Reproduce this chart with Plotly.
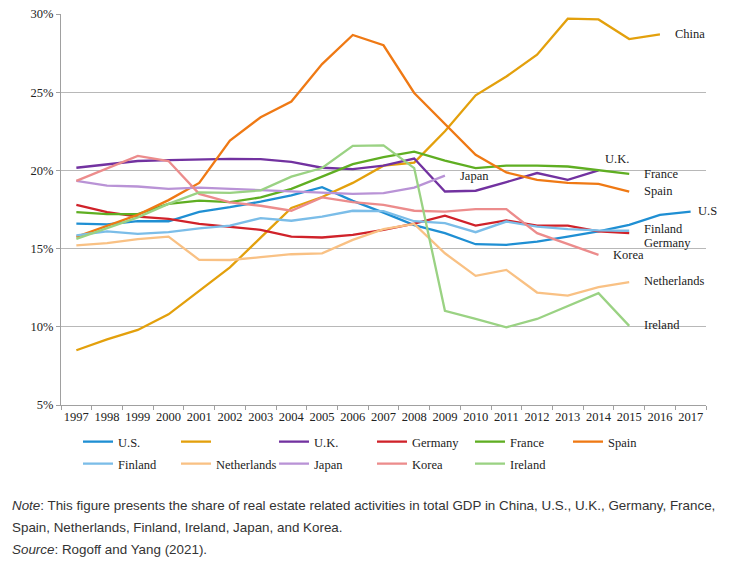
import plotly.graph_objects as go

years = list(range(1997, 2018))

us = [16.6, 16.55, 16.75, 16.75, 17.35, 17.65, 18.0, 18.4, 18.93, 18.05, 17.3, 16.5, 15.99, 15.28, 15.24, 15.45, 15.77, 16.1, 16.52, 17.16, 17.37]
china = [8.5, 9.2, 9.8, 10.8, 12.3, 13.8, 15.7, 17.6, 18.3, 19.2, 20.3, 20.5, 22.5, 24.8, 26.0, 27.4, 29.7, 29.65, 28.4, 28.7]
uk = [20.17, 20.4, 20.6, 20.66, 20.72, 20.74, 20.72, 20.55, 20.17, 20.08, 20.3, 20.76, 18.65, 18.7, 19.25, 19.83, 19.4, 20.0]
germany = [17.8, 17.33, 17.05, 16.9, 16.58, 16.37, 16.2, 15.77, 15.71, 15.88, 16.2, 16.6, 17.1, 16.47, 16.8, 16.47, 16.47, 16.1, 15.99]
france = [17.33, 17.2, 17.2, 17.86, 18.07, 17.97, 18.27, 18.82, 19.6, 20.4, 20.85, 21.2, 20.63, 20.15, 20.3, 20.3, 20.25, 20.0, 19.78]
spain = [15.75, 16.45, 17.16, 18.1, 19.2, 21.9, 23.4, 24.4, 26.8, 28.66, 28.0, 24.95, 23.0, 21.0, 19.87, 19.4, 19.2, 19.14, 18.65]
finland = [15.84, 16.1, 15.94, 16.05, 16.3, 16.47, 16.95, 16.78, 17.05, 17.42, 17.4, 16.75, 16.63, 16.05, 16.73, 16.41, 16.25, 16.16, 16.14]
netherlands = [15.2, 15.35, 15.6, 15.77, 14.28, 14.27, 14.45, 14.64, 14.7, 15.56, 16.24, 16.58, 14.7, 13.26, 13.64, 12.19, 12.0, 12.53, 12.85]
japan = [19.33, 19.03, 18.97, 18.82, 18.9, 18.82, 18.7, 18.63, 18.55, 18.5, 18.55, 18.9, 19.67]
korea = [19.33, 20.15, 20.93, 20.6, 18.5, 17.95, 17.74, 17.42, 18.27, 17.97, 17.8, 17.42, 17.37, 17.52, 17.52, 15.99, 15.28, 14.6]
ireland = [15.62, 16.3, 17.0, 17.86, 18.6, 18.56, 18.72, 19.6, 20.15, 21.57, 21.6, 20.15, 11.02, 10.5, 9.97, 10.5, 11.3, 12.15, 10.06]

series = [
    ("U.S.", us, "#1f8fd3", "legend"),
    ("", china, "#e3a00c", "legend"),
    ("U.K.", uk, "#7232a0", "legend"),
    ("Germany", germany, "#d0222a", "legend"),
    ("France", france, "#5fae22", "legend"),
    ("Spain", spain, "#ef7914", "legend"),
    ("Finland", finland, "#7bbde8", "legend2"),
    ("Netherlands", netherlands, "#f9c184", "legend2"),
    ("Japan", japan, "#b993d6", "legend2"),
    ("Korea", korea, "#ec8c8c", "legend2"),
    ("Ireland", ireland, "#9ad283", "legend2"),
]

end_labels = [
    ("China", 2016.42, 28.74),
    ("U.K.", 2014.15, 20.74),
    ("France", 2015.42, 19.78),
    ("Spain", 2015.42, 18.69),
    ("U.S", 2017.18, 17.41),
    ("Finland", 2015.42, 16.28),
    ("Germany", 2015.42, 15.38),
    ("Korea", 2014.41, 14.58),
    ("Netherlands", 2015.42, 12.94),
    ("Ireland", 2015.42, 10.12),
    ("Japan", 2009.43, 19.65),
]

y_ticks = [5, 10, 15, 20, 25, 30]
y_ticktext = [f"{v}%" for v in y_ticks]

SERIF = "Liberation Serif"
SANS = "Liberation Sans"

fig = go.Figure()
for name, vals, color, lg in series:
    fig.add_trace(go.Scatter(
        x=years[:len(vals)], y=vals, mode="lines", name=name,
        line=dict(color=color, width=2.3), legend=lg, showlegend=True,
        hoverinfo="skip",
    ))

for text, x, y in end_labels:
    fig.add_annotation(x=x, y=y, xref="x", yref="y", text=text, showarrow=False,
                       xanchor="left", yanchor="middle",
                       font=dict(family=SERIF, size=12.5, color="#222"))

# plot area: left 61, width 645, top 14, height 391
notes = [
    ("<i>Note</i>: This figure presents the share of real estate related activities in total GDP in China, U.S., U.K., Germany, France,", 506),
    ("Spain, Netherlands, Finland, Ireland, Japan, and Korea.", 527),
    ("<i>Source</i>: Rogoff and Yang (2021).", 549),
]
for text, py in notes:
    fig.add_annotation(x=(10 - 61) / 645, y=(405 - py) / 391, xref="paper", yref="paper",
                       text=text, showarrow=False, xanchor="left", yanchor="middle",
                       font=dict(family=SANS, size=13.4, color="#333"))

grid = "#b8b8b8"
legend_common = dict(orientation="h", xref="container", yref="container",
                     xanchor="left", yanchor="top",
                     entrywidth=53, entrywidthmode="pixels", itemwidth=30,
                     font=dict(family=SERIF, size=12.5, color="#222"),
                     bgcolor="rgba(0,0,0,0)", tracegroupgap=0)
fig.update_layout(
    width=748, height=562,
    margin=dict(l=61, r=42, t=14, b=157, autoexpand=False),
    paper_bgcolor="white", plot_bgcolor="white",
    font=dict(family=SERIF, color="#222"),
    xaxis=dict(range=[1996.5, 2017.5], tickmode="array", tickvals=years,
               ticktext=[str(y) for y in years], ticks="", showgrid=False,
               showline=True, linecolor="#a0a0a0", linewidth=1,
               tickfont=dict(family=SERIF, size=12.5, color="#222"),
               minor=dict(tickmode="linear", tick0=1996.5, dtick=1, ticks="outside",
                          ticklen=4, tickcolor="#a0a0a0", showgrid=False),
               zeroline=False),
    yaxis=dict(range=[5, 30], tickmode="array", tickvals=y_ticks, ticktext=y_ticktext,
               showgrid=True, gridcolor=grid, gridwidth=1,
               showline=True, linecolor="#a0a0a0", linewidth=1,
               ticks="outside", ticklen=4, tickcolor="#a0a0a0",
               tickfont=dict(family=SERIF, size=12.5, color="#222"), zeroline=False),
    legend=dict(x=78 / 748, y=1 - 427 / 562, **legend_common),
    legend2=dict(x=78 / 748, y=1 - 449 / 562, **legend_common),
    showlegend=True,
)

fig.write_html("out.html")
